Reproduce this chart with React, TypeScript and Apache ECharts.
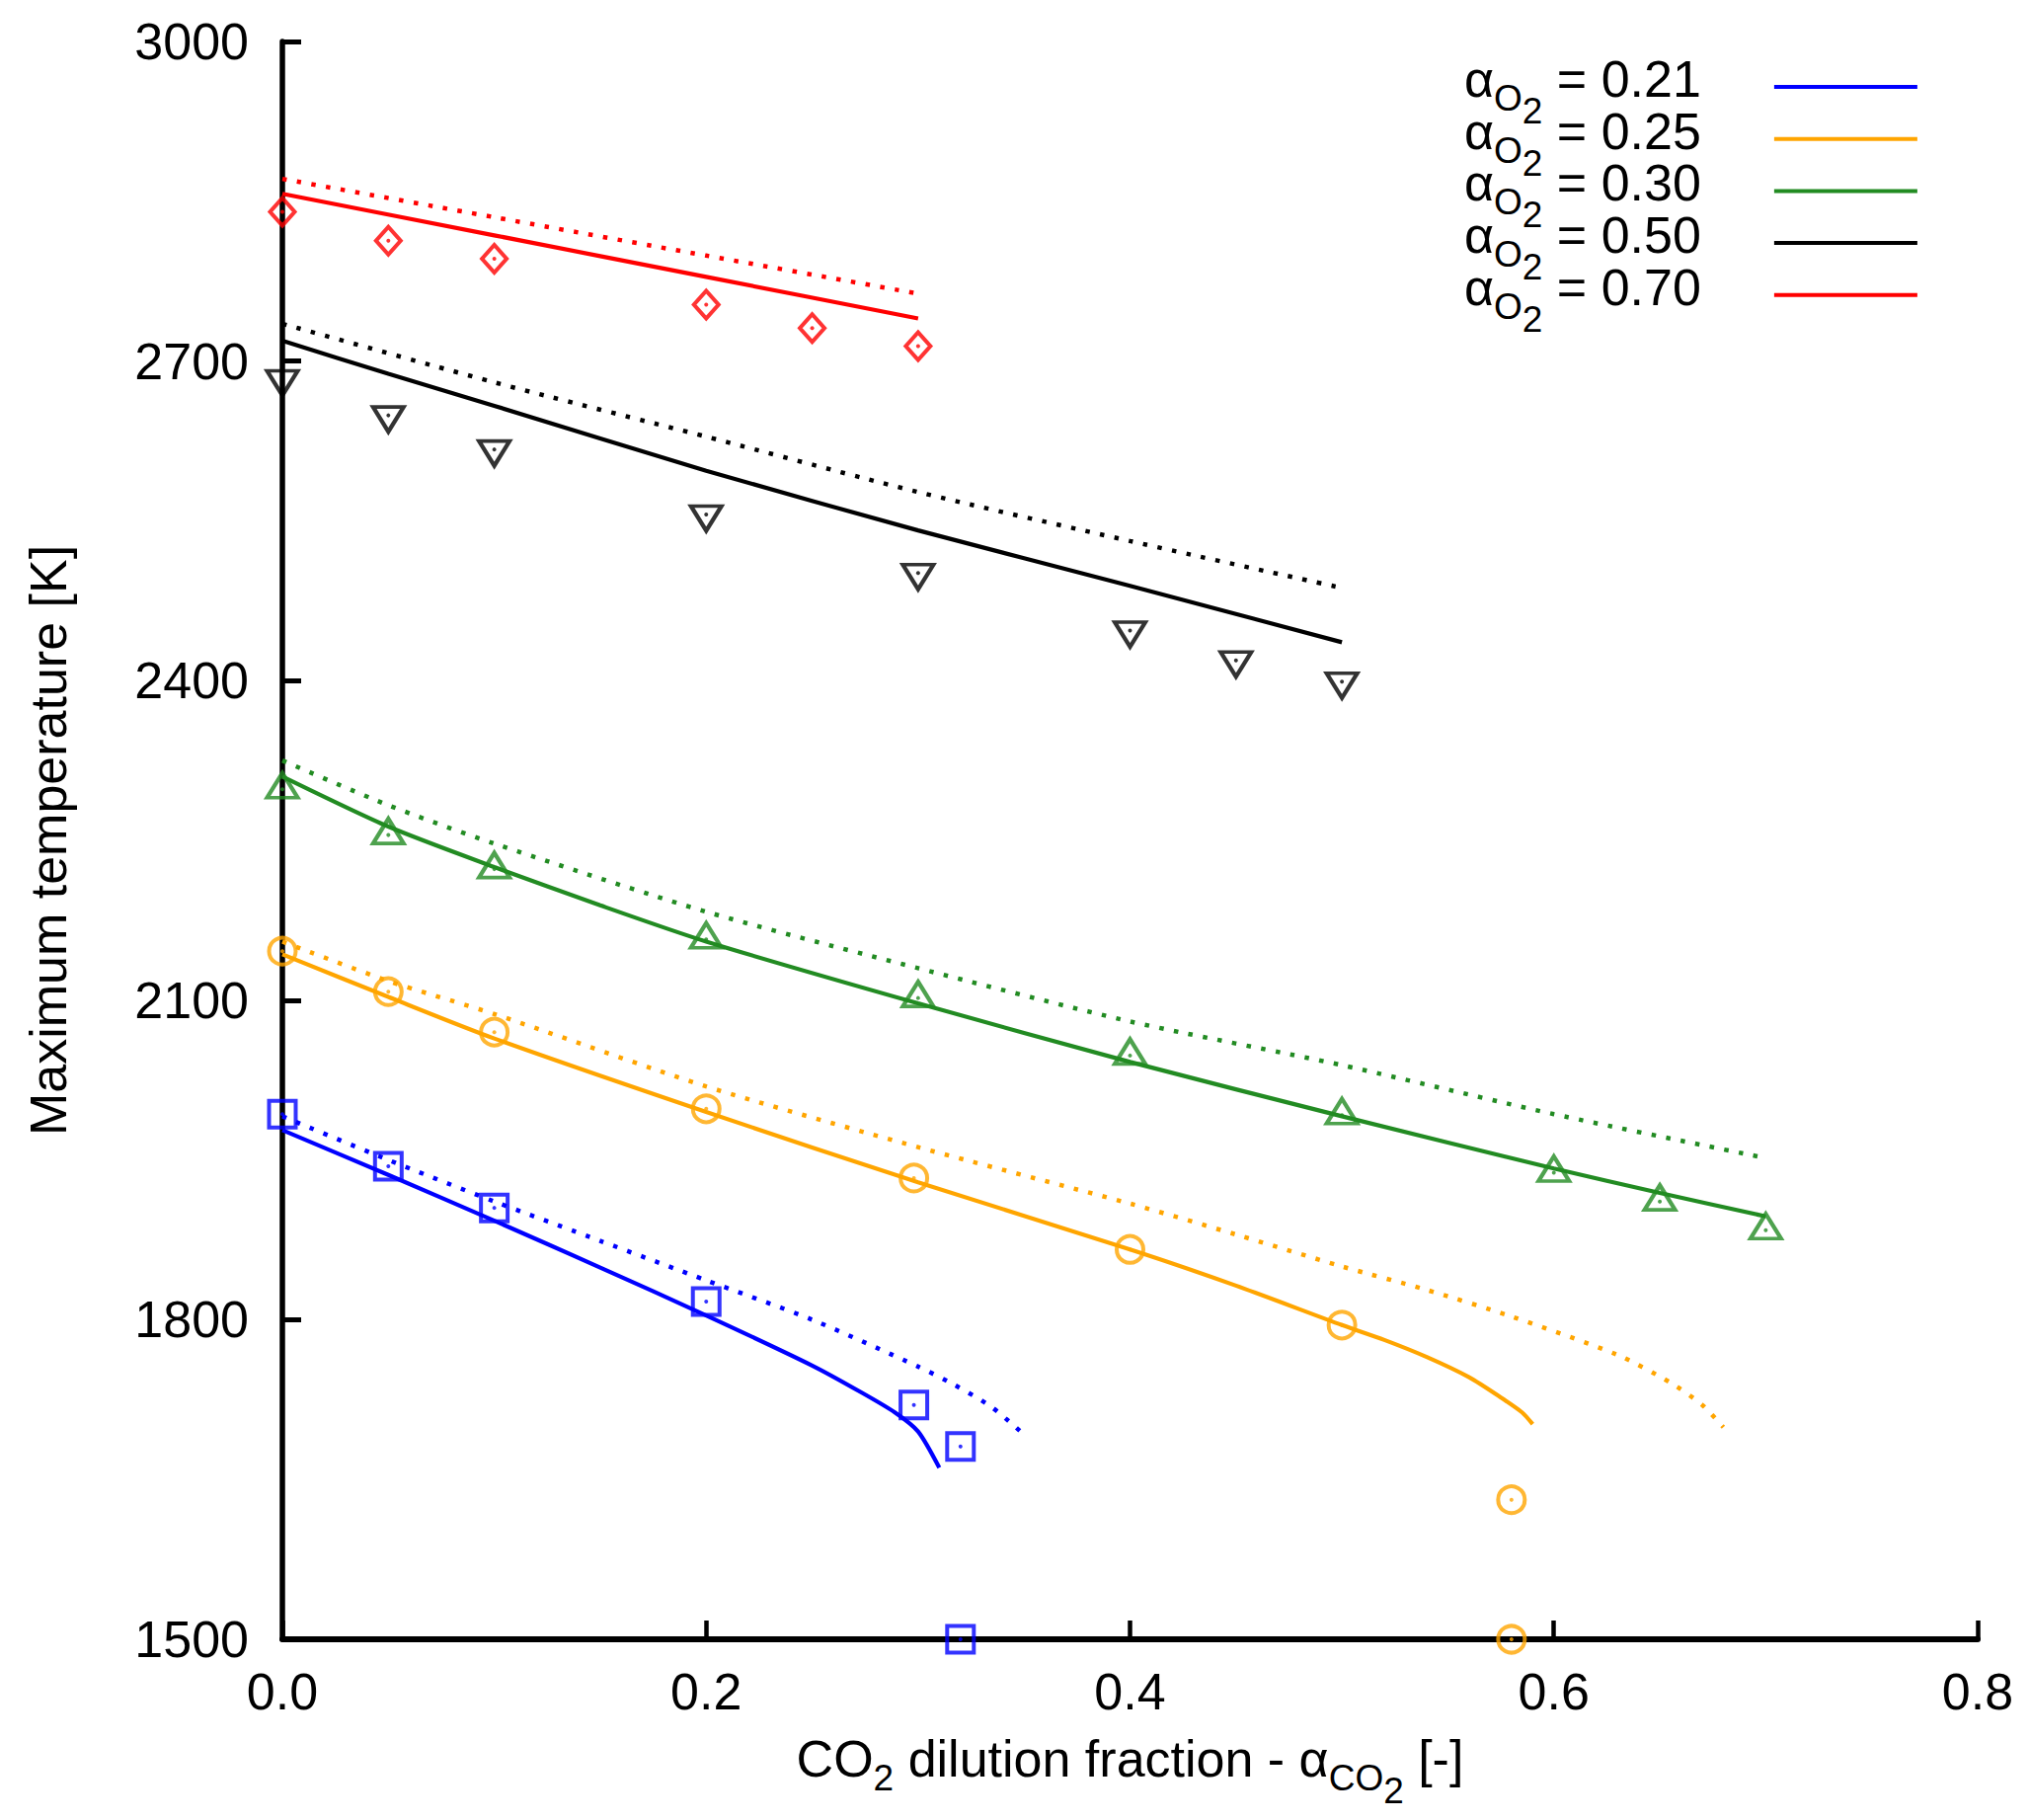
import React, { useEffect, useRef } from "react";
import * as echarts from "echarts";

// ---------- data (x = CO2 dilution fraction, y = maximum temperature [K]) ----------
const fractions = ["0.21", "0.25", "0.30", "0.50", "0.70"];
const colors = ["#0000ff", "#ffa500", "#228b22", "#000000", "#ff0000"];

// markers (simulation points)
const markers021 = [[0, 1993], [0.05, 1944], [0.1, 1905], [0.2, 1817], [0.298, 1720], [0.32, 1681], [0.32, 1500]];
const markers025 = [[0, 2146], [0.05, 2108], [0.1, 2070], [0.2, 1998], [0.298, 1933], [0.4, 1866], [0.5, 1795], [0.58, 1631], [0.58, 1500]];
const markers030 = [[0, 2298], [0.05, 2255], [0.1, 2223], [0.2, 2157], [0.3, 2102], [0.4, 2048], [0.5, 1992], [0.6, 1938], [0.65, 1911], [0.7, 1884]];
const markers050 = [[0, 2683], [0.05, 2649], [0.1, 2617], [0.2, 2556], [0.3, 2501], [0.4, 2447], [0.45, 2419], [0.5, 2399]];
const markers070 = [[0, 2840], [0.05, 2813], [0.1, 2796], [0.2, 2753], [0.25, 2731], [0.3, 2714]];

// solid curves
const solid021 = [[0, 1978], [0.05, 1936], [0.1, 1893], [0.15, 1849], [0.2, 1804], [0.25, 1757], [0.273, 1732], [0.289, 1713], [0.3, 1695], [0.31, 1661]];
const solid025 = [[0, 2143], [0.05, 2103], [0.1, 2064], [0.2, 1995], [0.3, 1929], [0.4, 1866], [0.45, 1832], [0.5, 1795], [0.52, 1781], [0.54, 1765], [0.56, 1746], [0.575, 1727], [0.585, 1713], [0.59, 1702]];
const solid030 = [[0, 2310], [0.05, 2263], [0.1, 2225], [0.15, 2189], [0.2, 2155], [0.3, 2097], [0.4, 2042], [0.5, 1991], [0.6, 1942], [0.65, 1919], [0.7, 1897]];
const solid050 = [[0, 2719], [0.05, 2688], [0.1, 2658], [0.2, 2597], [0.3, 2541], [0.4, 2489], [0.5, 2436]];
const solid070 = [[0, 2857], [0.1, 2818], [0.2, 2779], [0.3, 2740]];

// dotted curves
const dotted021 = [[0, 1991], [0.05, 1950], [0.1, 1911], [0.15, 1874], [0.2, 1837], [0.25, 1800], [0.3, 1756], [0.317, 1739], [0.334, 1719], [0.345, 1701], [0.35, 1692]];
const dotted025 = [[0, 2155], [0.05, 2118], [0.1, 2087], [0.2, 2019], [0.3, 1962], [0.4, 1909], [0.45, 1880], [0.5, 1850], [0.54, 1828], [0.58, 1803], [0.63, 1767], [0.655, 1741], [0.67, 1720], [0.68, 1699]];
const dotted030 = [[0, 2325], [0.05, 2283], [0.1, 2247], [0.2, 2183], [0.3, 2130], [0.4, 2080], [0.5, 2039], [0.6, 1993], [0.697, 1953]];
const dotted050 = [[0, 2735], [0.1, 2680], [0.2, 2629], [0.3, 2577], [0.4, 2531], [0.5, 2487]];
const dotted070 = [[0, 2871], [0.1, 2835], [0.2, 2799], [0.298, 2764]];

const markerSets = [markers021, markers025, markers030, markers050, markers070];
const solidSets = [solid021, solid025, solid030, solid050, solid070];
const dottedSets = [dotted021, dotted025, dotted030, dotted050, dotted070];

const markerSymbols = ["rect", "circle", "triangle", "triangle", "diamond"];
const markerRotations = [0, 0, 0, 180, 0];
const markerSizes: any[] = [27, 27, [31, 25], [31, 25], [25, 28]];
const markerOffsets: any[] = [[0, 0], [0, 0], [0, -4], [0, 4], [0, 0]];

const FONT = "'Liberation Sans', Arial, Helvetica, sans-serif";
const F = 52;
const S = 37;

function makeRich(m: number, rightPad: number) {
  return {
    n: { fontSize: F, fontFamily: FONT, color: "#000", verticalAlign: "top", padding: [m, 0, 0, 0] },
    v: { fontSize: F, fontFamily: FONT, color: "#000", verticalAlign: "top", padding: [m, rightPad, 0, 0] },
    s: { fontSize: S, fontFamily: FONT, color: "#000", verticalAlign: "top", padding: [m + 27, 0, 0, 0] },
    ss: { fontSize: S, fontFamily: FONT, color: "#000", verticalAlign: "top", padding: [m + 40, 0, 0, 0] },
  };
}

const seriesName = (i: number) => "O2 " + fractions[i];

function buildOption() {
  const series: any[] = [];
  fractions.forEach((_, i) => {
    series.push({
      name: seriesName(i),
      type: "line",
      data: solidSets[i],
      symbol: "none",
      showSymbol: false,
      smooth: 0.25,
      lineStyle: { color: colors[i], width: 4.2, type: "solid" },
      itemStyle: { color: colors[i] },
      z: 3,
    });
    series.push({
      name: "dotted " + fractions[i],
      type: "line",
      data: dottedSets[i],
      symbol: "none",
      showSymbol: false,
      smooth: 0.25,
      lineStyle: { color: colors[i], width: 4.5, type: [4.5, 10.5], cap: "butt" },
      itemStyle: { color: colors[i] },
      z: 3,
    });
    series.push({
      name: "markers " + fractions[i],
      type: "scatter",
      data: markerSets[i],
      symbol: markerSymbols[i],
      symbolSize: markerSizes[i],
      symbolRotate: markerRotations[i],
      symbolOffset: markerOffsets[i],
      clip: false,
      itemStyle: { color: "rgba(255,255,255,0)", borderColor: colors[i], borderWidth: 4 },
      emphasis: { disabled: true },
      z: 4,
    });
    series.push({
      name: "dots " + fractions[i],
      type: "scatter",
      data: markerSets[i],
      symbol: "circle",
      symbolSize: 4,
      clip: false,
      itemStyle: { color: colors[i] },
      emphasis: { disabled: true },
      z: 5,
    });
  });

  return {
    animation: false,
    backgroundColor: "#ffffff",
    textStyle: { fontFamily: FONT, color: "#000" },
    grid: { left: 286, right: 53, top: 42, bottom: 183, containLabel: false },
    legend: {
      show: true,
      orient: "vertical",
      align: "right",
      left: 1483,
      top: 54,
      padding: 0,
      itemGap: -24.3,
      icon: "rect",
      itemWidth: 145,
      itemHeight: 4,
      selectedMode: false,
      data: fractions.map((_, i) => seriesName(i)),
      formatter: (name: string) => {
        const f = name.replace("O2 ", "");
        return "{n|α}{s|O}{ss|2}{v| = " + f + "}";
      },
      textStyle: { fontFamily: FONT, fontSize: F, color: "#000", rich: makeRich(9, 69) },
    },
    xAxis: {
      type: "value",
      min: 0,
      max: 0.8,
      interval: 0.2,
      name: "{n|CO}{s|2}{n| dilution fraction - α}{s|CO}{ss|2}{n| [-]}",
      nameLocation: "middle",
      nameGap: 95,
      nameTextStyle: { fontFamily: FONT, fontSize: F, color: "#000", rich: makeRich(0, 0) },
      axisLine: { show: true, onZero: false, lineStyle: { color: "#000", width: 6 } },
      axisTick: { show: true, inside: true, length: 19, lineStyle: { color: "#000", width: 4.5 } },
      axisLabel: {
        show: true,
        margin: 27,
        fontSize: F,
        fontFamily: FONT,
        color: "#000",
        formatter: (v: number) => v.toFixed(1),
      },
      splitLine: { show: false },
    },
    yAxis: {
      type: "value",
      min: 1500,
      max: 3000,
      interval: 300,
      name: "Maximum temperature [K]",
      nameLocation: "middle",
      nameRotate: 90,
      nameGap: 211,
      nameTextStyle: { fontFamily: FONT, fontSize: F, color: "#000" },
      axisLine: { show: true, onZero: false, lineStyle: { color: "#000", width: 5.5 } },
      axisTick: { show: true, inside: true, length: 19, lineStyle: { color: "#000", width: 5 } },
      axisLabel: {
        show: true,
        margin: 34,
        fontSize: F,
        fontFamily: FONT,
        color: "#000",
        formatter: (v: number) => String(v),
      },
      splitLine: { show: false },
    },
    series,
  };
}

export default function App() {
  const ref = useRef<HTMLDivElement>(null);
  useEffect(() => {
    if (!ref.current) return;
    const chart = echarts.init(ref.current, null, { renderer: "svg" });
    chart.setOption(buildOption() as any);
    return () => {
      chart.dispose();
    };
  }, []);
  return (
    <div
      ref={ref}
      style={{ position: "absolute", left: 0, top: 0, width: 2056, height: 1843, background: "#ffffff" }}
    />
  );
}
